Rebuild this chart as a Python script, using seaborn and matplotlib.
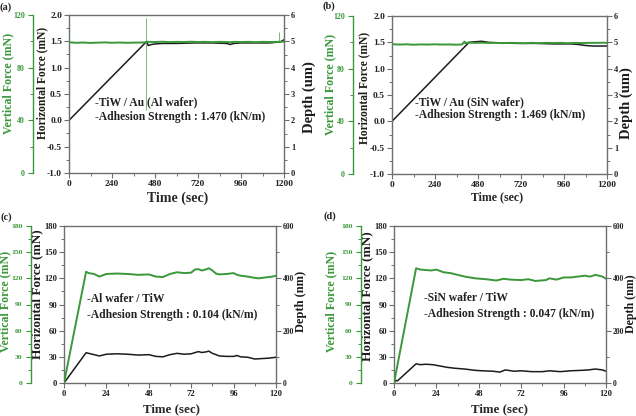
import matplotlib
matplotlib.use("Agg")
import matplotlib.pyplot as plt
import numpy as np
import pandas as pd
import seaborn as sns
from matplotlib.ticker import MultipleLocator, AutoMinorLocator, FormatStrFormatter

# ---------------- data ----------------
# (a) TiW / Au (Al wafer), time 0-1200 s
GA_T = [0, 2, 4, 40, 80, 120, 160, 200, 240, 280, 320, 360, 400, 428, 436, 480, 520, 560,
        600, 640, 680, 720, 760, 800, 840, 880, 900, 920, 960, 1000, 1040, 1080, 1120,
        1160, 1174, 1200]
GA_V = [99.0, 99.3, 99.2, 98.9, 99.1, 98.8, 99.0, 99.2, 98.9, 99.1, 98.9, 99.0, 99.1, 99.2,
        99.6, 99.5, 99.7, 99.4, 99.6, 99.5, 99.7, 99.5, 99.6, 99.4, 99.6, 99.5, 99.3, 99.6,
        99.5, 99.6, 99.4, 99.6, 99.5, 99.6, 99.6, 99.8]
SPIKE_T = [2, 430, 1172]
SPIKE_LO = [99.0, 48.0, 99.5]
SPIKE_HI = [104.8, 117.6, 107.0]
BA_T = [0, 434, 442, 460, 480, 520, 600, 700, 800, 880, 900, 920, 960, 1040, 1120, 1180, 1200]
BA_V = [0.0, 1.50, 1.42, 1.44, 1.45, 1.46, 1.46, 1.47, 1.47, 1.46, 1.44, 1.46, 1.47, 1.47,
        1.47, 1.49, 1.53]

# (b) TiW / Au (SiN wafer)
GB_T = [0, 40, 80, 120, 160, 200, 240, 280, 320, 360, 390, 400, 405, 410, 420, 460, 500,
        540, 580, 620, 660, 700, 740, 780, 820, 860, 900, 940, 980, 1020, 1060, 1100, 1140,
        1180, 1200]
GB_V = [98.6, 98.3, 98.5, 98.2, 98.4, 98.3, 98.5, 98.3, 98.4, 98.2, 98.4, 99.8, 100.6, 99.2,
        99.8, 99.6, 99.7, 99.5, 99.6, 99.4, 99.6, 99.5, 99.3, 99.6, 99.4, 99.6, 99.5, 99.6,
        99.4, 99.6, 99.5, 99.6, 99.6, 99.7, 99.6]
BB_T = [0, 430, 460, 500, 540, 600, 700, 800, 900, 1000, 1040, 1080, 1120, 1160, 1200]
BB_V = [0.0, 1.50, 1.51, 1.52, 1.50, 1.49, 1.48, 1.48, 1.47, 1.47, 1.46, 1.44, 1.43, 1.43, 1.43]

# (c) Al wafer / TiW, time 0-120 s
GC_T = [0, 12.5, 14, 17, 20, 24, 30, 36, 42, 48, 52, 56, 60, 64, 68, 72, 74, 76, 78, 80, 82,
        84, 86, 88, 92, 96, 98, 100, 104, 108, 110, 114, 118, 120]
GC_V = [0, 127.6, 126, 125, 122, 125, 125.5, 125, 124, 124.5, 122, 121.5, 125, 127, 126,
        126.5, 130, 130.5, 129, 130, 131.5, 129, 125.5, 124.5, 125, 126, 124, 123, 122, 120.5,
        120, 121, 122, 123]
BC_T = [0, 12.5, 16, 20, 24, 30, 36, 42, 48, 52, 56, 60, 64, 68, 72, 76, 78, 80, 82, 84, 88,
        92, 96, 98, 100, 104, 108, 112, 116, 120]
BC_V = [0, 34.7, 33, 31, 33, 33.5, 33, 32, 32.5, 30.5, 30, 32.5, 34, 33, 33.5, 36, 35, 35.5,
        36.5, 34, 31, 30.5, 30.5, 31.5, 30, 29.5, 27.5, 28, 28.5, 29.5]

# (d) SiN wafer / TiW
GD_T = [0, 12.5, 15, 18, 21, 24, 28, 32, 36, 40, 46, 52, 58, 62, 66, 72, 76, 80, 86, 88, 92,
        96, 100, 104, 108, 111, 114, 118, 120]
GD_V = [0, 131.5, 130, 129.5, 129, 130, 127, 126, 124, 122, 120, 119, 117.5, 119.5, 118.5,
        118, 119, 117, 118, 120, 118.5, 121, 121, 122, 123, 122, 124, 122, 119.5]
BD_T = [0, 1, 2, 12.5, 15, 18, 22, 26, 30, 34, 40, 46, 50, 56, 60, 63, 68, 72, 78, 84, 88,
        94, 100, 106, 110, 114, 118, 120]
BD_V = [0, 3, 2.5, 22, 21, 21.5, 21, 19.5, 18, 17, 16, 14.5, 14, 13.5, 12.5, 15, 13.5, 14, 13,
        13, 14, 13, 14, 14.5, 15, 16, 15, 13.5]

NOTES = [("-TiW / Au (Al wafer)", "-Adhesion Strength : 1.470 (kN/m)"),
         ("-TiW / Au (SiN wafer)", "-Adhesion Strength : 1.469 (kN/m)"),
         ("-Al wafer / TiW", "-Adhesion Strength : 0.104 (kN/m)"),
         ("-SiN wafer / TiW", "-Adhesion Strength : 0.047 (kN/m)")]
LETTERS = ["(a)", "(b)", "(c)", "(d)"]
XLABEL = "Time (sec)"
VF_LABEL = "Vertical Force (mN)"
HF_LABEL = "Horizontal Force (mN)"
DEPTH_LABELS = ["Depth (um)", "Depth (um)", "Depth (nm)", "Depth (nm)"]

# ---------------- style ----------------
sns.set_style("ticks")
plt.rcParams["font.family"] = ["Liberation Serif", "DejaVu Serif"]
plt.rcParams["font.weight"] = "bold"
plt.rcParams["axes.labelweight"] = "bold"

GREEN = "#3a983a"
GRAY = "#6e6e6e"
BLACK = "#1c1c1c"

W, H = 636, 416
fig = plt.figure(figsize=(W / 100, H / 100), dpi=100)
fig.patch.set_facecolor("white")


def rect(x0, x1, ytop, ybot):
    return [x0 / W, 1 - ybot / H, (x1 - x0) / W, (ybot - ytop) / H]


def finish(ax, axd, axg, xmax, xstep, hf_lim, hf_step, hf_fmt, vf_lim, vf_step, d_lim, d_step,
           g_off, tick_fs, g_fs, d_fs):
    ax.set_xlim(0, xmax)
    ax.set_ylim(*hf_lim)
    axd.set_ylim(*d_lim)
    axg.set_ylim(*vf_lim)
    ax.xaxis.set_major_locator(MultipleLocator(xstep))
    ax.xaxis.set_minor_locator(AutoMinorLocator(2))
    ax.yaxis.set_major_locator(MultipleLocator(hf_step))
    ax.yaxis.set_minor_locator(AutoMinorLocator(2))
    ax.yaxis.set_major_formatter(FormatStrFormatter(hf_fmt))
    axd.yaxis.set_major_locator(MultipleLocator(d_step))
    axd.yaxis.set_minor_locator(AutoMinorLocator(2))
    axg.yaxis.set_major_locator(MultipleLocator(vf_step))
    axg.yaxis.set_minor_locator(AutoMinorLocator(2))
    for s in ax.spines.values():
        s.set_color(GRAY)
        s.set_linewidth(1.0)
    ax.spines["right"].set_visible(False)
    for k in ("left", "top", "bottom"):
        axd.spines[k].set_visible(False)
    axd.spines["right"].set_color(GRAY)
    axd.spines["right"].set_linewidth(1.0)
    for k in ("right", "top", "bottom"):
        axg.spines[k].set_visible(False)
    axg.spines["left"].set_visible(True)
    axg.spines["left"].set_position(("axes", g_off))
    axg.spines["left"].set_color(GREEN)
    axg.spines["left"].set_linewidth(1.0)
    axg.yaxis.set_ticks_position("left")
    axg.yaxis.set_label_position("left")
    ax.tick_params(which="major", direction="out", length=3.5, width=0.8, color=GRAY,
                   labelsize=tick_fs, pad=1.5, labelcolor="#222222")
    ax.tick_params(which="minor", direction="out", length=2, width=0.7, color=GRAY)
    axd.tick_params(which="major", direction="out", length=3.5, width=0.8, color=GRAY,
                    labelsize=d_fs, pad=1.5, labelcolor="#222222")
    axd.tick_params(which="minor", direction="out", length=2, width=0.7, color=GRAY)
    axg.tick_params(which="major", direction="out", length=3.5, width=0.8, color=GREEN,
                    labelsize=g_fs, pad=2.5, labelcolor=GREEN)
    axg.tick_params(which="minor", direction="out", length=2, width=0.7, color=GREEN)


panels = [
    dict(r=rect(69, 284, 15, 173), xmax=1200, xstep=240, hf_lim=(-1, 2), hf_step=0.5,
         hf_fmt="%.1f", vf_lim=(0, 120), vf_step=40, d_lim=(0, 6), d_step=1, g_off=-0.167,
         tick_fs=6.8, g_fs=5.7, d_fs=6.0),
    dict(r=rect(392, 607, 16, 174), xmax=1200, xstep=240, hf_lim=(-1, 2), hf_step=0.5,
         hf_fmt="%.1f", vf_lim=(0, 120), vf_step=40, d_lim=(0, 6), d_step=1, g_off=-0.181,
         tick_fs=6.8, g_fs=5.7, d_fs=6.0),
    dict(r=rect(64, 276, 226, 383), xmax=120, xstep=24, hf_lim=(0, 180), hf_step=30,
         hf_fmt="%d", vf_lim=(0, 180), vf_step=30, d_lim=(0, 600), d_step=200, g_off=-0.156,
         tick_fs=6.2, g_fs=5.4, d_fs=5.5),
    dict(r=rect(394, 606, 226, 383), xmax=120, xstep=24, hf_lim=(0, 180), hf_step=30,
         hf_fmt="%d", vf_lim=(0, 180), vf_step=30, d_lim=(0, 600), d_step=200, g_off=-0.156,
         tick_fs=6.2, g_fs=5.4, d_fs=5.5),
]

series = [(GA_T, GA_V, BA_T, BA_V), (GB_T, GB_V, BB_T, BB_V),
          (GC_T, GC_V, BC_T, BC_V), (GD_T, GD_V, BD_T, BD_V)]

# label placements (axes coords) and font sizes
label_cfg = [
    dict(x=(0.505, -0.158), xfs=10.0, hf=(-0.126, 0.57), hffs=8.3, vf=(-0.282, 0.57), vffs=8.6,
         dp=(1.119, 0.478), dfs=10.5, n=(0.121, 0.449, 0.354)),
    dict(x=(0.488, -0.146), xfs=8.6, hf=(-0.128, 0.547), hffs=8.3, vf=(-0.287, 0.57), vffs=8.6,
         dp=(1.088, 0.45), dfs=10.5, n=(0.107, 0.456, 0.373)),
    dict(x=(0.505, -0.166), xfs=9.3, hf=(-0.126, 0.567), hffs=9.5, vf=(-0.276, 0.52), vffs=8.6,
         dp=(1.118, 0.52), dfs=9.0, n=(0.108, 0.535, 0.433)),
    dict(x=(0.498, -0.166), xfs=9.3, hf=(-0.126, 0.554), hffs=9.5, vf=(-0.297, 0.518), vffs=8.6,
         dp=(1.116, 0.503), dfs=8.6, n=(0.142, 0.541, 0.439)),
]
letter_px = [(6, 7), (329, 6), (6, 217), (330, 216)]

for i, (p, (gt, gv, bt, bv), lc) in enumerate(zip(panels, series, label_cfg)):
    ax = fig.add_axes(p["r"])
    axd = ax.twinx()
    axg = ax.twinx()
    sns.lineplot(x=bt, y=bv, ax=ax, color=BLACK, linewidth=1.1, estimator=None, sort=False)
    sns.lineplot(x=gt, y=gv, ax=axg, color=GREEN, linewidth=1.4, estimator=None, sort=False)
    if i == 0:
        axg.vlines(SPIKE_T, SPIKE_LO, SPIKE_HI, color=GREEN, linewidth=0.6, alpha=0.8)
    kw = {k: v for k, v in p.items() if k != "r"}
    finish(ax, axd, axg, **kw)

    ax.set_xlabel(XLABEL, fontsize=lc["xfs"], fontweight="bold", va="center")
    ax.xaxis.set_label_coords(*lc["x"])
    ax.set_ylabel(HF_LABEL, fontsize=lc["hffs"], fontweight="bold", va="center", color=BLACK)
    ax.yaxis.set_label_coords(*lc["hf"])
    axg.set_ylabel(VF_LABEL, fontsize=lc["vffs"], fontweight="bold", va="center", color=GREEN)
    axg.yaxis.set_label_coords(*lc["vf"])
    axd.set_ylabel(DEPTH_LABELS[i], fontsize=lc["dfs"], fontweight="bold", va="center",
                   color=BLACK, rotation=90)
    axd.yaxis.set_label_coords(*lc["dp"])

    nx, ny1, ny2 = lc["n"]
    ax.text(nx, ny1, NOTES[i][0], transform=ax.transAxes, fontsize=8.4, fontweight="bold",
            ha="left", va="center", color="#222222")
    ax.text(nx, ny2, NOTES[i][1], transform=ax.transAxes, fontsize=8.4, fontweight="bold",
            ha="left", va="center", color="#222222")

    lx, ly = letter_px[i]
    fig.text(lx / W, 1 - ly / H, LETTERS[i], fontsize=7.5, fontweight="bold",
             ha="center", va="center", color="#222222")

fig.savefig("out.png", dpi=100, facecolor="white")
